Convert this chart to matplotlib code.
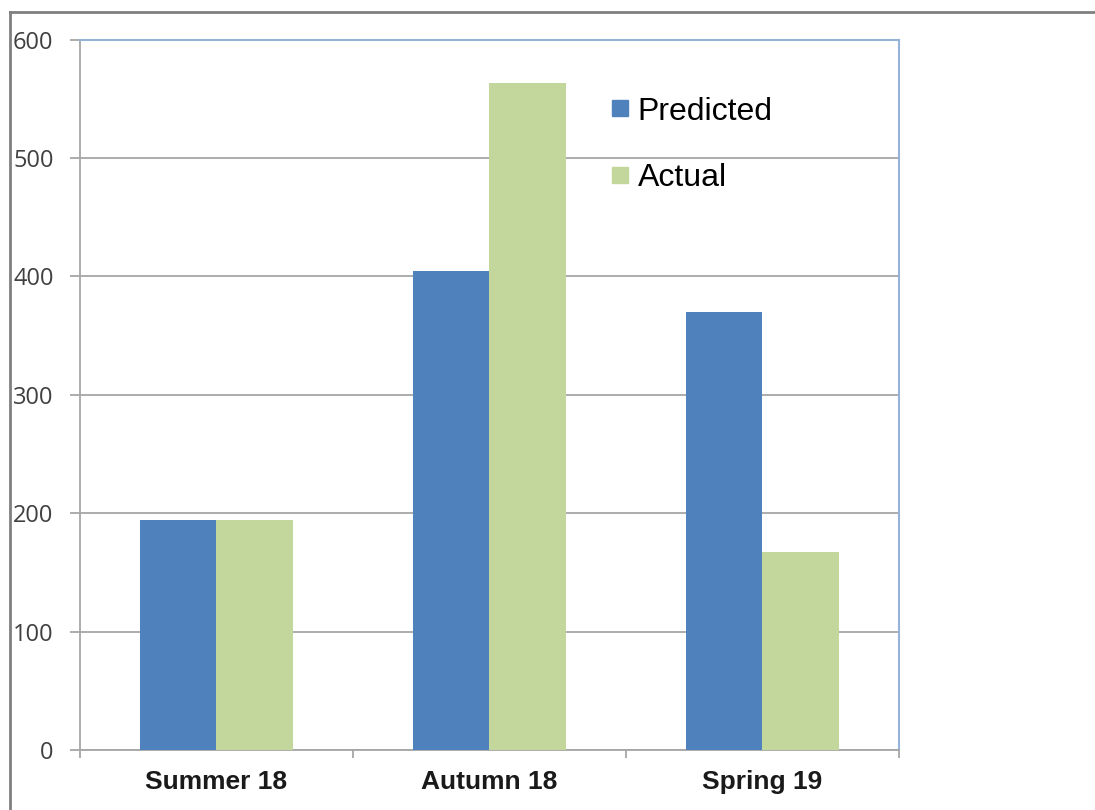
import numpy as np
import matplotlib
matplotlib.use('Agg')
import matplotlib.pyplot as plt
from matplotlib.lines import Line2D

# data
seasons = ['Summer 18', 'Autumn 18', 'Spring 19']
predicted = [194, 405, 370]
actual = [194, 563, 167]
y_ticks = [0, 100, 200, 300, 400, 500, 600]

BLUE = '#4f81bd'
GREEN = '#c3d69b'
GRID = '#a6a6a6'

fig = plt.figure(figsize=(10.95, 8.10), dpi=100)
ax = fig.add_axes([0.073, 0.074, 0.748, 0.877])

x = np.arange(len(seasons))
w = 0.28
ax.bar(x - w / 2, predicted, w, color=BLUE, label='Predicted', zorder=3)
ax.bar(x + w / 2, actual, w, color=GREEN, label='Actual', zorder=3)

ax.set_xlim(-0.5, len(seasons) - 0.5)
ax.set_ylim(0, 600)
ax.set_yticks(y_ticks)
ax.yaxis.grid(True, color=GRID, linewidth=1.3, zorder=0)

# category separators as major ticks, names as minor ticks
ax.set_xticks(np.arange(len(seasons) + 1) - 0.5)
ax.set_xticklabels([])
ax.set_xticks(x, minor=True)
ax.set_xticklabels(seasons, minor=True, fontfamily='Liberation Sans',
                   fontweight='bold', fontsize=19, color='#1a1a1a')
ax.tick_params(axis='x', which='minor', length=0, pad=14)
ax.tick_params(axis='x', which='major', length=6, color=GRID, width=1.3)
ax.tick_params(axis='y', length=7, color=GRID, width=1.3, pad=12,
               labelsize=17, labelcolor='#404040')
for lab in ax.get_yticklabels():
    lab.set_fontfamily('Open Sans')

ax.spines['left'].set_color(GRID)
ax.spines['bottom'].set_color(GRID)
ax.spines['left'].set_linewidth(1.3)
ax.spines['bottom'].set_linewidth(1.3)
ax.spines['top'].set_color('#95b3d7')
ax.spines['right'].set_color('#95b3d7')
ax.spines['top'].set_linewidth(1.5)
ax.spines['right'].set_linewidth(1.5)

handles = [Line2D([], [], marker='s', linestyle='', markersize=11.5,
                  color=c) for c in (BLUE, GREEN)]
ax.legend(handles, ['Predicted', 'Actual'], loc='upper left',
          bbox_to_anchor=(0.632, 0.938), frameon=False,
          prop={'family': 'Liberation Sans', 'size': 23},
          handlelength=0.6, handletextpad=0.25, labelspacing=1.15,
          borderaxespad=0)

# outer screenshot border (top and left)
fig.add_artist(Line2D([0.009, 1.0], [0.985, 0.985], color='#808080', linewidth=2))
fig.add_artist(Line2D([0.009, 0.009], [0.0, 0.985], color='#808080', linewidth=2))

fig.savefig('out.png', dpi=100)
